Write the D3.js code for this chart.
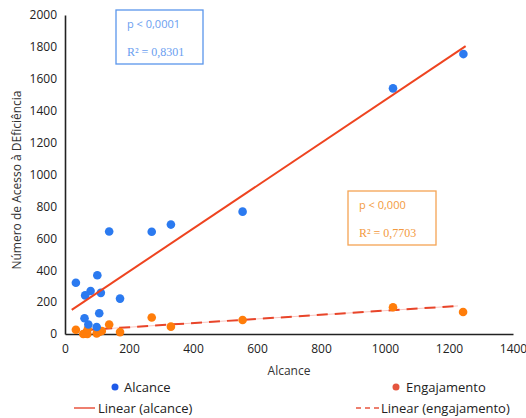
<!DOCTYPE html>
<html>
<head>
<meta charset="utf-8">
<script src="https://cdn.jsdelivr.net/npm/d3@7"></script>
<style>
  body { margin: 0; background: #fff; }
  svg text { font-family: "Open Sans", "DejaVu Sans", sans-serif; }
</style>
</head>
<body>
<div id="chart"></div>
<script>
// Dados
const alcanceX = [34, 61, 63, 73, 80, 99, 101, 107, 112, 138, 172, 271, 331, 555, 1025, 1245];
const alcanceY = [321, 99, 242, 60, 270, 44, 368, 130, 258, 643, 222, 641, 686, 767, 1540, 1755];

const engajX = [34, 57, 63, 70, 71, 99, 102, 107, 115, 138, 172, 271, 331, 555, 1025, 1244];
const engajY = [27, 0, 2, 0, 30, 4, 19, 13, 19, 60, 12, 103, 46, 88, 168, 138];

// extremos das linhas de tendência
const trendAlcanceX = [21, 1252];
const trendAlcanceY = [151, 1805];
const trendEngajX = [57, 1228];
const trendEngajY = [24, 176];

const xTicks = [0, 200, 400, 600, 800, 1000, 1200, 1400];
const yTicks = [0, 200, 400, 600, 800, 1000, 1200, 1400, 1600, 1800, 2000];

const width = 526, height = 418;
const margin = { top: 15, right: 13, bottom: 84, left: 65 };

const svg = d3.select("#chart").append("svg")
    .attr("width", width).attr("height", height);

const x = d3.scaleLinear().domain([0, 1400]).range([margin.left, width - margin.right]);
const y = d3.scaleLinear().domain([0, 2000]).range([height - margin.bottom, margin.top]);

// Eixos
const fmt = d3.format("d");
const xAxis = svg.append("g")
    .attr("transform", `translate(0,${y(0)})`)
    .call(d3.axisBottom(x).tickValues(xTicks).tickFormat(fmt).tickSize(0).tickPadding(8));
const yAxis = svg.append("g")
    .attr("transform", `translate(${x(0)},0)`)
    .call(d3.axisLeft(y).tickValues(yTicks).tickFormat(fmt).tickSize(0).tickPadding(8));

[xAxis, yAxis].forEach(a => {
    a.select(".domain").attr("stroke", "#222").attr("stroke-width", 1.6);
    a.selectAll("text").attr("font-size", 12).attr("fill", "#222");
});
xAxis.selectAll("text").attr("dy", "0.9em");

// Títulos dos eixos
svg.append("text")
    .attr("x", 289).attr("y", 375)
    .attr("text-anchor", "middle")
    .attr("font-size", 12).attr("fill", "#333")
    .text("Alcance");

svg.append("text")
    .attr("transform", `translate(21,180) rotate(-90)`)
    .attr("text-anchor", "middle")
    .attr("font-size", 12).attr("fill", "#333")
    .text("Número de Acesso à DEficiência");

// Linhas de tendência
const line = d3.line().x(d => x(d[0])).y(d => y(d[1]));

svg.append("path")
    .datum(d3.zip(trendEngajX, trendEngajY))
    .attr("d", line)
    .attr("fill", "none").attr("stroke", "#f7b8b0").attr("stroke-width", 0.8);
svg.append("path")
    .datum(d3.zip(trendEngajX, trendEngajY))
    .attr("d", line)
    .attr("fill", "none").attr("stroke", "#e8452a").attr("stroke-width", 2)
    .attr("stroke-dasharray", "11,7");

// Pontos
svg.append("g").selectAll("circle")
    .data(d3.zip(engajX, engajY))
    .join("circle")
    .attr("cx", d => x(d[0])).attr("cy", d => y(d[1]))
    .attr("r", 4.3).attr("fill", "#ff7d0a");

svg.append("g").selectAll("circle")
    .data(d3.zip(alcanceX, alcanceY))
    .join("circle")
    .attr("cx", d => x(d[0])).attr("cy", d => y(d[1]))
    .attr("r", 4.3).attr("fill", "#2b7af0");

svg.append("path")
    .datum(d3.zip(trendAlcanceX, trendAlcanceY))
    .attr("d", line)
    .attr("fill", "none").attr("stroke", "#ee4420").attr("stroke-width", 2);

// Caixas de estatísticas
function statBox(x0, y0, w, h, color, fill, pText, rText) {
    const g = svg.append("g");
    g.append("rect")
        .attr("x", x0).attr("y", y0).attr("width", w).attr("height", h)
        .attr("fill", "#fff").attr("stroke", color).attr("stroke-width", 1.3);
    g.append("text")
        .attr("x", x0 + 11).attr("y", y0 + 18)
        .attr("font-size", 11).attr("fill", fill)
        .text(pText);
    g.append("text")
        .attr("x", x0 + 11).attr("y", y0 + 46)
        .attr("font-size", 12).attr("fill", fill)
        .style("font-family", "'Liberation Serif', 'DejaVu Serif', serif")
        .text(rText);
}
statBox(116, 10, 87, 54, "#5a96ec", "#6a9ef0", "p < 0,0001", "R² = 0,8301");
statBox(348, 191, 88, 54, "#f5a454", "#f39a40", "p < 0,000", "R² = 0,7703");

// Legenda
const leg = svg.append("g").attr("font-size", 13).attr("fill", "#222");
leg.append("circle").attr("cx", 115).attr("cy", 387).attr("r", 3.5).attr("fill", "#1f5ae8");
leg.append("text").attr("x", 124).attr("y", 391.5).text("Alcance");
leg.append("circle").attr("cx", 396).attr("cy", 387).attr("r", 3.5).attr("fill", "#e5553e");
leg.append("text").attr("x", 406).attr("y", 391.5).text("Engajamento");

leg.append("line").attr("x1", 74).attr("x2", 95).attr("y1", 408).attr("y2", 408)
    .attr("stroke", "#e8553f").attr("stroke-width", 1.5);
leg.append("text").attr("x", 98).attr("y", 412.5).text("Linear (alcance)");
leg.append("line").attr("x1", 356).attr("x2", 379).attr("y1", 408).attr("y2", 408)
    .attr("stroke", "#e8553f").attr("stroke-width", 1.5).attr("stroke-dasharray", "5,4");
leg.append("text").attr("x", 381).attr("y", 412.5).text("Linear (engajamento)");
</script>
</body>
</html>
